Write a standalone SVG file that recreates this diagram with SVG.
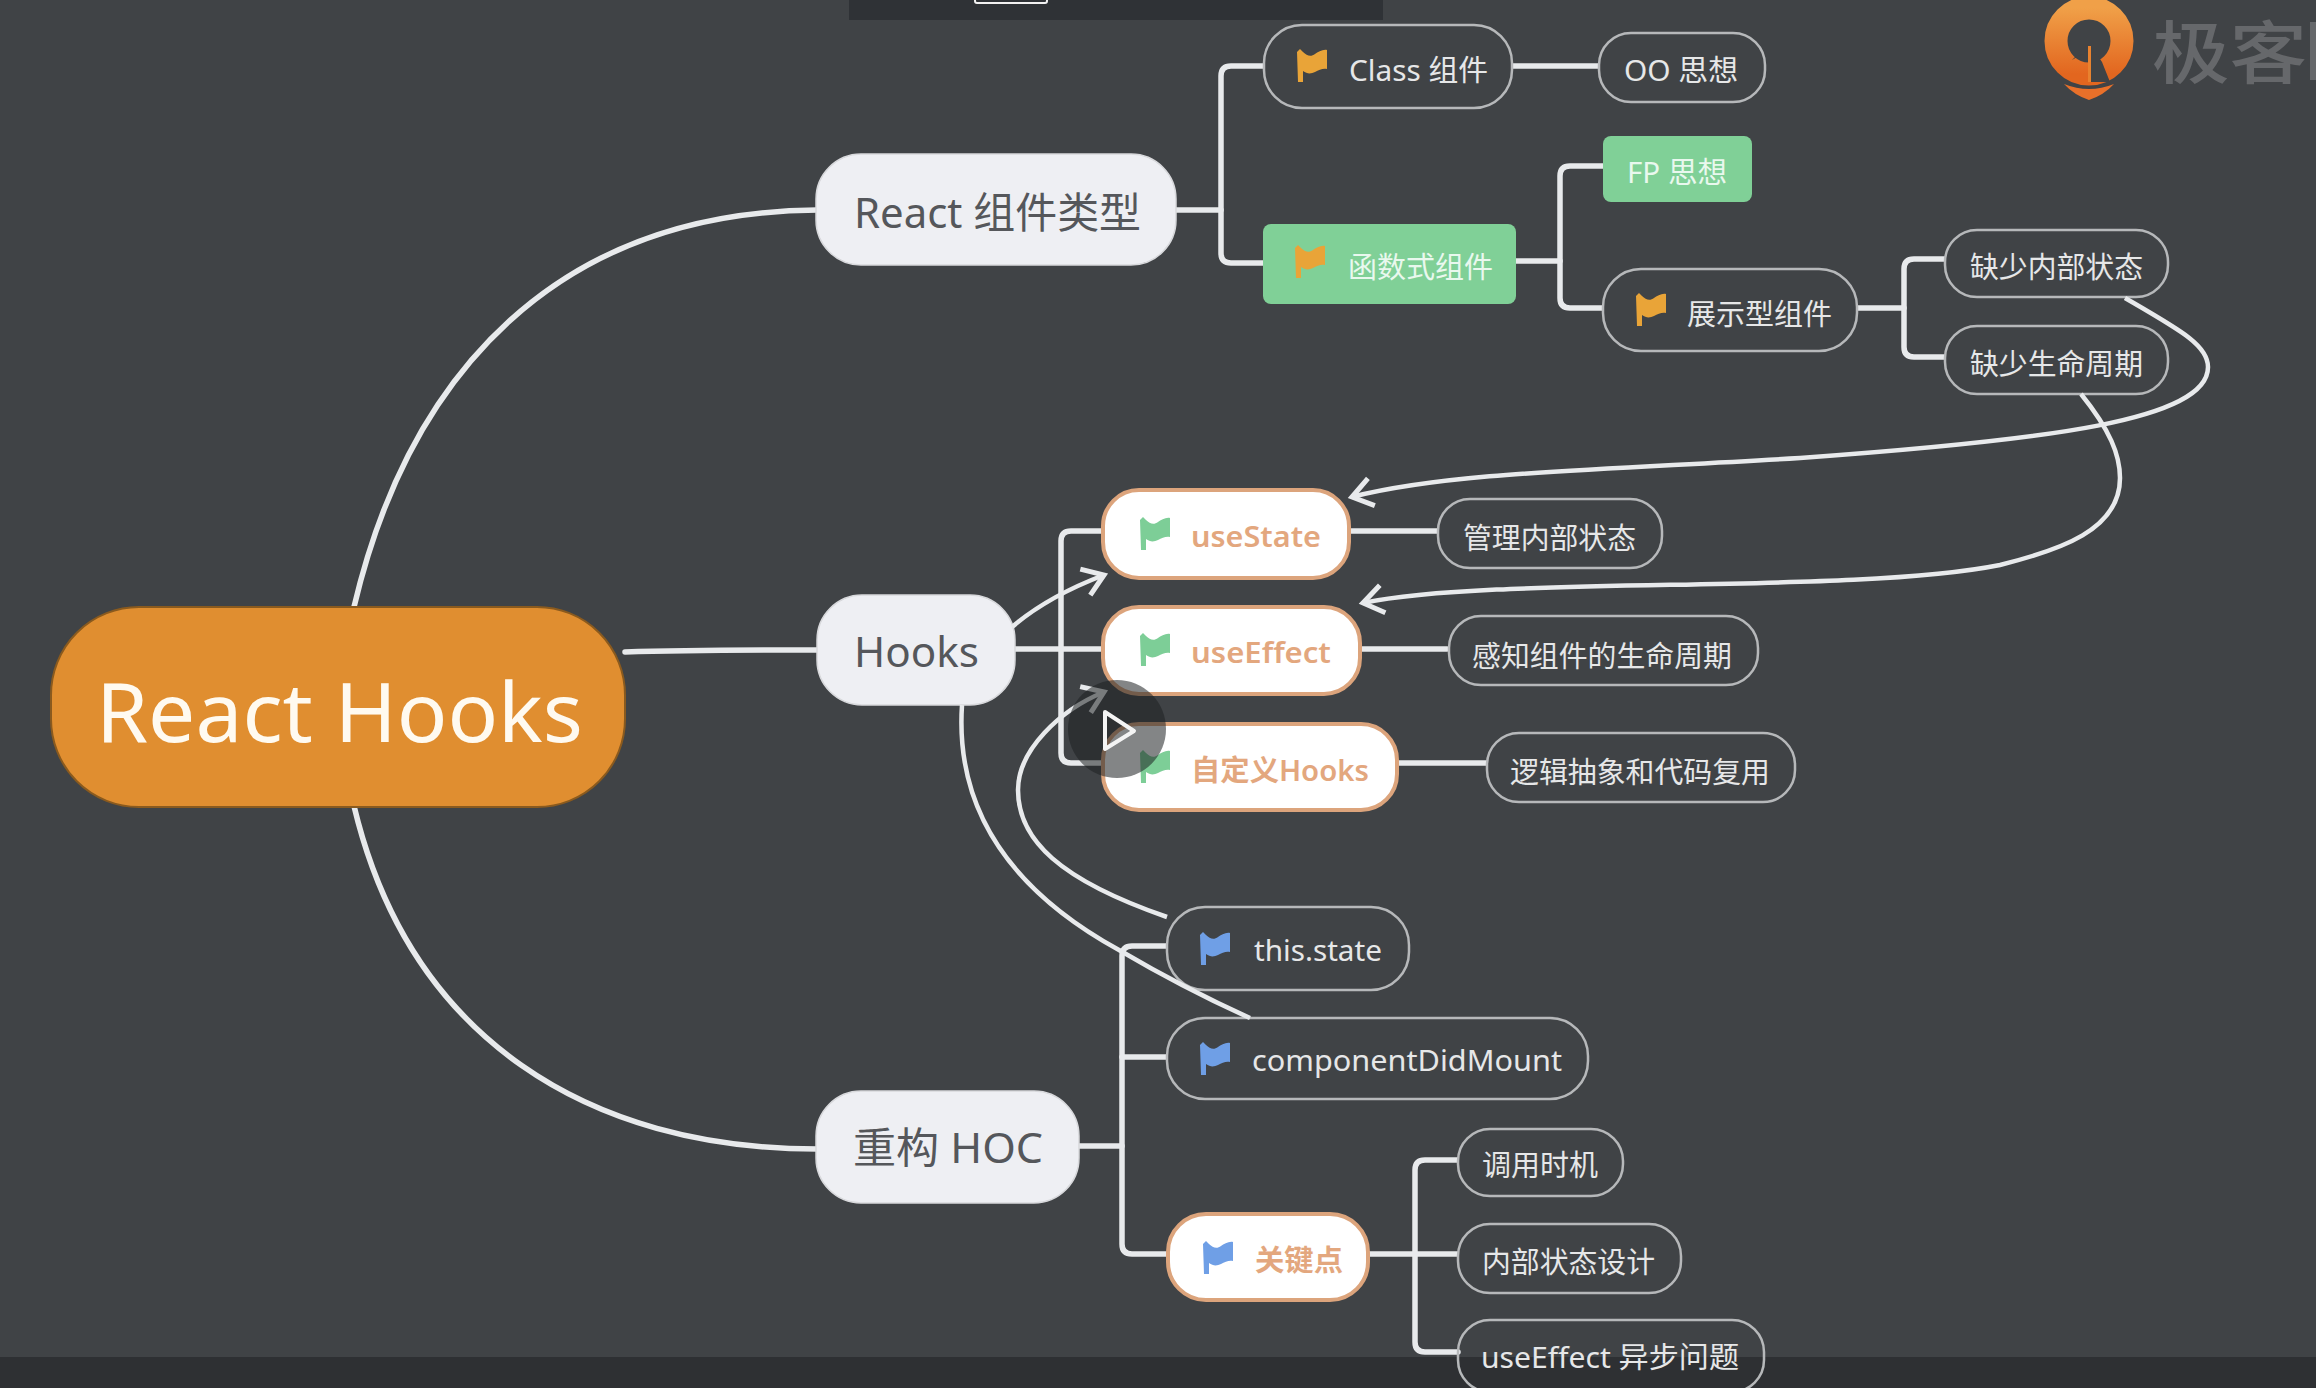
<svg xmlns="http://www.w3.org/2000/svg" width="2316" height="1388" viewBox="0 0 2316 1388">
<style>
text{font-family:"Noto Sans","Noto Sans CJK SC",sans-serif;}
.cn{font-family:"Noto Sans CJK SC","Noto Sans",sans-serif;}
.line{fill:none;stroke:#e8eaec;stroke-width:5.5;stroke-linecap:round;}
.rel{fill:none;stroke:#e8eaec;stroke-width:4.5;}
.arrow{marker-end:url(#open);}
.dark rect{fill:#404346;stroke:#b6b8ba;stroke-width:2.5;}
.dark text{fill:#e6e7e8;font-size:29px;}
.light rect{fill:#eeeff3;stroke:#d8d9dc;stroke-width:1.5;}
.light text{fill:#55575b;font-size:42px;}
.green rect{fill:#80d097;}
.green text{fill:#e9f8ee;font-size:29px;}
.white rect{fill:#fff;stroke:#dca47c;stroke-width:4;}
.white text{fill:#e3a77e;font-size:29px;font-weight:600;}
.forange{fill:#e9a438;}
.fgreen{fill:#7dce97;}
.fblue{fill:#6f9fe6;}
</style>
<defs>
<marker id="open" markerUnits="userSpaceOnUse" markerWidth="40" markerHeight="40" refX="27" refY="20" orient="auto" overflow="visible">
<path d="M7,6 L27,20 L7,34" fill="none" stroke="#e8eaec" stroke-width="5"/>
</marker>
<path id="flag" d="M0,3 L3,0 L6,3 C10,7 14,8 18,5 C21,3 26,0 30,1 L30,20 C26,19 22,21 18,23 C14,25 10,25 6,22 L6,33 L1,33 Z"/>
<linearGradient id="pin" x1="0" y1="0" x2="0" y2="1">
<stop offset="0" stop-color="#f0a048"/>
<stop offset="1" stop-color="#e2661f"/>
</linearGradient>
</defs>

<rect width="2316" height="1388" fill="#404346"/>
<rect id="top-bar" x="849" y="0" width="534" height="20" fill="#2f3236"/>
<rect x="975" y="-4" width="72" height="7" rx="2" fill="none" stroke="#f2f2f2" stroke-width="2"/>
<rect id="caption-band" x="0" y="1357" width="2316" height="31" fill="#2e3033"/>

<g id="logo">
<circle cx="2089" cy="41" r="33" fill="none" stroke="url(#pin)" stroke-width="23"/>
<path d="M2064,84 Q2089,94 2114,84 Q2104,95 2089,100 Q2074,95 2064,84 Z" fill="#e8702a"/>
<path d="M2072,60 L2090,42 L2090,82 L2110,82 L2102,62 L2098,56 L2089,50 Z" fill="#404346"/>
<path d="M2088,46 L2091,46 L2091,82 L2088,82 Z" fill="#e8822f"/>
<text class="cn" x="2152" y="78" font-size="68" font-weight="500" fill="#66686b" textLength="155" lengthAdjust="spacingAndGlyphs">极客</text>
<rect x="2310" y="22" width="6" height="58" fill="#66686b"/>
</g>

<g id="connectors">
<path class="line" d="M354,607 C410,370 560,212 817,210"/>
<path class="line" d="M625,652 C690,650 750,650 817,650"/>
<path class="line" d="M354,806 C410,1040 590,1149 817,1149"/>
<path class="line" d="M1176,210 H1221"/>
<path class="line" d="M1264,66 H1231 Q1221,66 1221,76 V253 Q1221,263 1231,263 H1264"/>
<path class="line" d="M1512,66 H1599"/>
<path class="line" d="M1516,261 H1560"/>
<path class="line" d="M1603,166 H1570 Q1560,166 1560,176 V298 Q1560,308 1570,308 H1603"/>
<path class="line" d="M1858,308 H1904"/>
<path class="line" d="M1944,259 H1914 Q1904,259 1904,269 V347 Q1904,357 1914,357 H1944"/>
<path class="line" d="M1015,649 H1102"/>
<path class="line" d="M1102,531 H1071 Q1061,531 1061,541 V753 Q1061,763 1071,763 H1102"/>
<path class="line" d="M1349,531 H1438"/>
<path class="line" d="M1360,649 H1447"/>
<path class="line" d="M1399,763 H1487"/>
<path class="line" d="M1079,1146 H1122"/>
<path class="line" d="M1167,946 H1132 Q1122,946 1122,956 V1244 Q1122,1254 1132,1254 H1167"/>
<path class="line" d="M1122,1057 H1167"/>
<path class="line" d="M1368,1254 H1458"/>
<path class="line" d="M1458,1160 H1425 Q1415,1160 1415,1170 V1342 Q1415,1352 1425,1352 H1458"/>
</g>

<g id="node-root"><rect x="51" y="607" width="574" height="200" rx="88" fill="#e08e30" stroke="#8a5a1e" stroke-width="2"/><text x="96" y="742" font-size="83" fill="#fffaf0" textLength="487" lengthAdjust="spacingAndGlyphs">React Hooks</text></g>

<g id="node-react-types" class="light"><rect x="816" y="154" width="360" height="111" rx="45"/><text x="854" y="228" textLength="287" lengthAdjust="spacingAndGlyphs">React 组件类型</text></g>
<g id="node-hooks" class="light"><rect x="817" y="595" width="198" height="110" rx="45"/><text x="854" y="667" textLength="125" lengthAdjust="spacingAndGlyphs">Hooks</text></g>
<g id="node-hoc" class="light"><rect x="816" y="1091" width="263" height="112" rx="45"/><text x="853" y="1163" textLength="190" lengthAdjust="spacingAndGlyphs">重构 HOC</text></g>

<g id="node-class" class="dark"><rect x="1264" y="25" width="248" height="83" rx="38"/><use href="#flag" class="forange" x="1297" y="49"/><text x="1349" y="81" font-size="30" textLength="139" lengthAdjust="spacingAndGlyphs">Class 组件</text></g>
<g id="node-fn" class="green"><rect x="1263" y="224" width="253" height="80" rx="8"/><use href="#flag" class="forange" x="1295" y="245"/><text x="1348" y="278" textLength="145" lengthAdjust="spacingAndGlyphs">函数式组件</text></g>
<g id="node-oo" class="dark"><rect x="1599" y="33" width="166" height="69" rx="32"/><text x="1624" y="81" textLength="114" lengthAdjust="spacingAndGlyphs">OO 思想</text></g>
<g id="node-fp" class="green"><rect x="1603" y="136" width="149" height="66" rx="8"/><text x="1627" y="183" textLength="100" lengthAdjust="spacingAndGlyphs">FP 思想</text></g>
<g id="node-display" class="dark"><rect x="1603" y="269" width="254" height="82" rx="38"/><use href="#flag" class="forange" x="1636" y="293"/><text x="1687" y="325" textLength="145" lengthAdjust="spacingAndGlyphs">展示型组件</text></g>
<g id="node-nostate" class="dark"><rect x="1945" y="230" width="223" height="67" rx="32"/><text x="1970" y="278" textLength="173" lengthAdjust="spacingAndGlyphs">缺少内部状态</text></g>
<g id="node-nolife" class="dark"><rect x="1945" y="326" width="223" height="68" rx="32"/><text x="1970" y="375" textLength="173" lengthAdjust="spacingAndGlyphs">缺少生命周期</text></g>

<g id="node-usestate" class="white"><rect x="1103" y="490" width="246" height="88" rx="36"/><use href="#flag" class="fgreen" x="1140" y="517"/><text x="1191" y="547" textLength="130" lengthAdjust="spacingAndGlyphs">useState</text></g>
<g id="node-useeffect" class="white"><rect x="1103" y="607" width="257" height="87" rx="36"/><use href="#flag" class="fgreen" x="1140" y="633"/><text x="1191" y="663" textLength="140" lengthAdjust="spacingAndGlyphs">useEffect</text></g>
<g id="node-custom" class="white"><rect x="1103" y="724" width="294" height="86" rx="36"/><use href="#flag" class="fgreen" x="1140" y="750"/><text x="1191" y="781" textLength="178" lengthAdjust="spacingAndGlyphs">自定义Hooks</text></g>
<g id="node-manage" class="dark"><rect x="1438" y="499" width="224" height="69" rx="32"/><text x="1463" y="549" textLength="173" lengthAdjust="spacingAndGlyphs">管理内部状态</text></g>
<g id="node-sense" class="dark"><rect x="1449" y="616" width="309" height="69" rx="32"/><text x="1472" y="667" textLength="260" lengthAdjust="spacingAndGlyphs">感知组件的生命周期</text></g>
<g id="node-reuse" class="dark"><rect x="1487" y="733" width="308" height="69" rx="32"/><text x="1510" y="783" textLength="260" lengthAdjust="spacingAndGlyphs">逻辑抽象和代码复用</text></g>

<g id="node-thisstate" class="dark"><rect x="1167" y="907" width="242" height="83" rx="38"/><use href="#flag" class="fblue" x="1200" y="932"/><text x="1254" y="961" font-size="30" textLength="128" lengthAdjust="spacingAndGlyphs">this.state</text></g>
<g id="node-cdm" class="dark"><rect x="1167" y="1018" width="421" height="81" rx="38"/><use href="#flag" class="fblue" x="1200" y="1042"/><text x="1252" y="1071" font-size="30" textLength="310" lengthAdjust="spacingAndGlyphs">componentDidMount</text></g>
<g id="node-key" class="white"><rect x="1168" y="1214" width="200" height="86" rx="38"/><use href="#flag" class="fblue" x="1203" y="1241"/><text x="1255" y="1271" textLength="88" lengthAdjust="spacingAndGlyphs">关键点</text></g>
<g id="node-timing" class="dark"><rect x="1458" y="1129" width="165" height="67" rx="32"/><text x="1482" y="1176" textLength="116" lengthAdjust="spacingAndGlyphs">调用时机</text></g>
<g id="node-design" class="dark"><rect x="1458" y="1224" width="223" height="69" rx="32"/><text x="1482" y="1273" textLength="173" lengthAdjust="spacingAndGlyphs">内部状态设计</text></g>
<g id="node-async" class="dark"><rect x="1458" y="1320" width="306" height="72" rx="32" style="fill:none"/><text x="1481" y="1368" textLength="258" lengthAdjust="spacingAndGlyphs">useEffect 异步问题</text></g>

<g id="relations">
<path class="rel arrow" d="M2125,298 C2180,330 2208,345 2208,367 C2208,420 2050,440 1800,458 C1600,470 1450,472 1352,497"/>
<path class="rel arrow" d="M2081,394 C2110,430 2120,455 2120,478 C2120,530 2060,550 2000,565 C1850,595 1500,575 1363,603"/>
<path class="rel arrow" d="M1012,627 C1040,603 1070,588 1104,575"/>
<path class="rel arrow" d="M1167,917 C1060,880 1018,840 1018,790 C1018,750 1060,710 1104,692"/>
<path class="rel" d="M962,705 C955,810 1010,890 1119,950 C1170,980 1210,1000 1250,1018"/>
</g>

<g id="play">
<circle cx="1117" cy="729" r="49" fill="#1e2022" fill-opacity="0.55"/>
<path d="M1105,712 L1134,731 L1105,749 Z" fill="none" stroke="#f4f4f4" stroke-width="4" stroke-linejoin="round"/>
</g>
</svg>
